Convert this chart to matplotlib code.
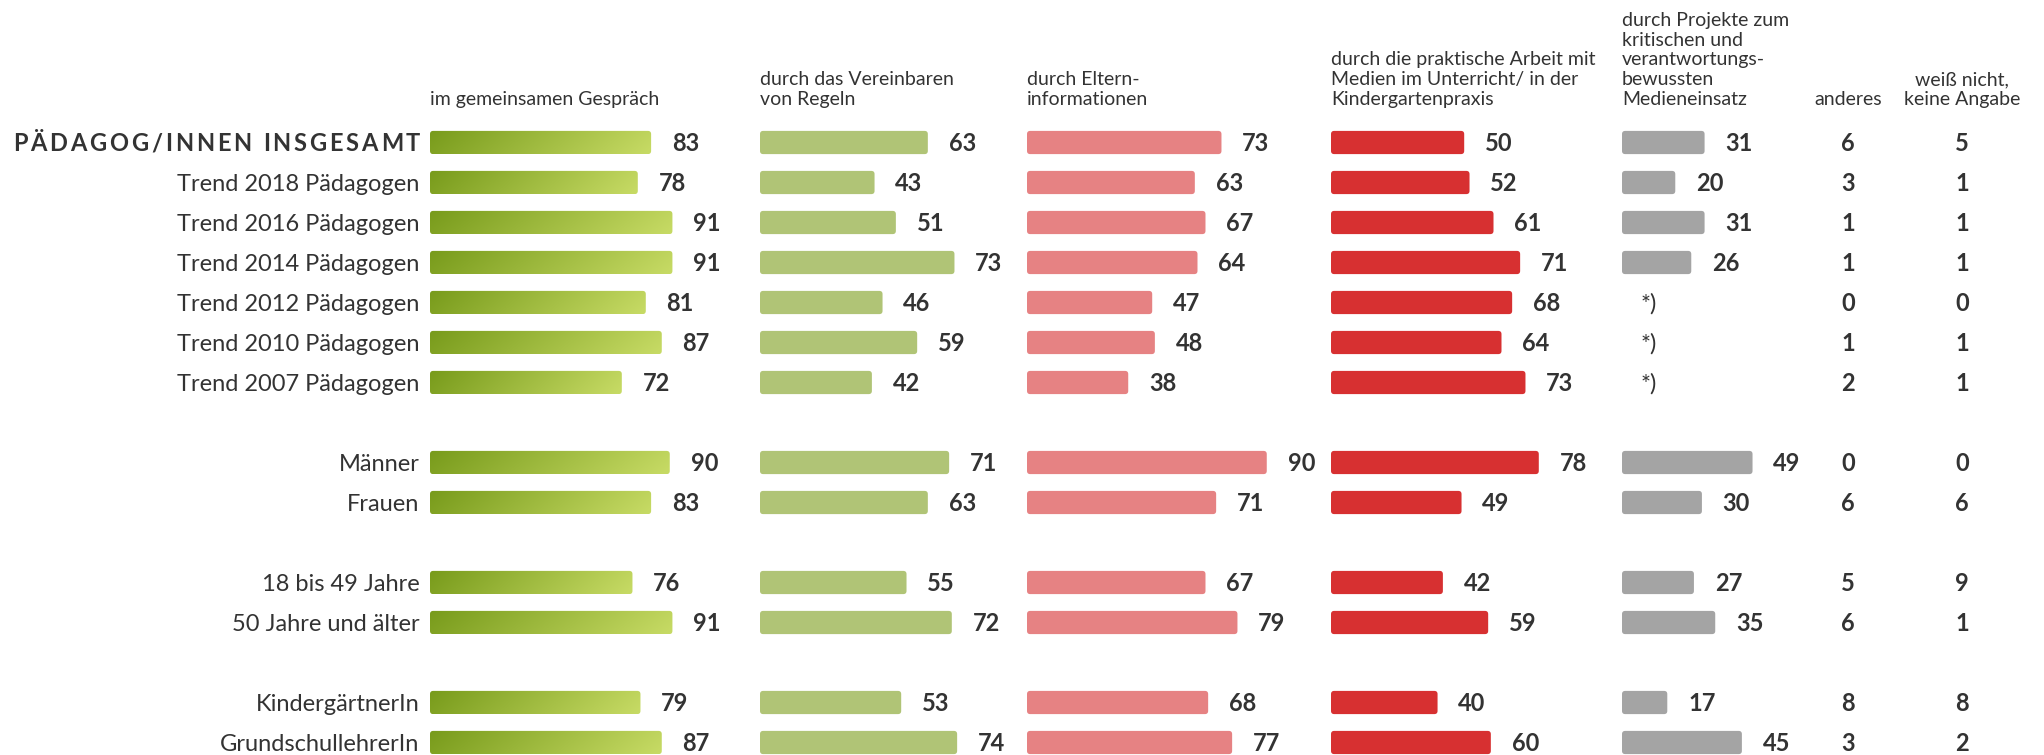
import numpy as np
import matplotlib
matplotlib.use('Agg')
import matplotlib.pyplot as plt
import matplotlib.transforms as mtransforms
from matplotlib.patches import FancyBboxPatch
from matplotlib.colors import LinearSegmentedColormap
from matplotlib.font_manager import FontProperties

plt.rcParams['font.family'] = ['Lato', 'DejaVu Sans']

# --- data ---------------------------------------------------------------
labels = ["PÄDAGOG/INNEN INSGESAMT", "Trend 2018 Pädagogen", "Trend 2016 Pädagogen",
          "Trend 2014 Pädagogen", "Trend 2012 Pädagogen", "Trend 2010 Pädagogen",
          "Trend 2007 Pädagogen", "Männer", "Frauen", "18 bis 49 Jahre",
          "50 Jahre und älter", "KindergärtnerIn", "GrundschullehrerIn"]
groups = [7, 2, 2, 2]

gespraech = [83, 78, 91, 91, 81, 87, 72, 90, 83, 76, 91, 79, 87]
regeln = [63, 43, 51, 73, 46, 59, 42, 71, 63, 55, 72, 53, 74]
eltern = [73, 63, 67, 64, 47, 48, 38, 90, 71, 67, 79, 68, 77]
praxis = [50, 52, 61, 71, 68, 64, 73, 78, 49, 42, 59, 40, 60]
projekte = [31, 20, 31, 26, None, None, None, 49, 30, 27, 35, 17, 45]
anderes = [6, 3, 1, 1, 0, 1, 2, 0, 6, 5, 6, 8, 3]
weiss = [5, 1, 1, 1, 0, 1, 1, 0, 6, 9, 1, 8, 2]

headers = ["im gemeinsamen Gespräch",
           "durch das Vereinbaren\nvon Regeln",
           "durch Eltern-\ninformationen",
           "durch die praktische Arbeit mit\nMedien im Unterricht/ in der\nKindergartenpraxis",
           "durch Projekte zum\nkritischen und\nverantwortungs-\nbewussten\nMedieneinsatz"]
header_anderes = "anderes"
header_weiss = "weiß nicht,\nkeine Angabe"
missing_note = "*)"

# --- layout -------------------------------------------------------------
W, H = 2044, 755
TXT = '#333333'
px_per_unit = 2.664          # pixels per percentage point
row_px = 40.0                # pixels per row
first_row_px = 142.5         # centre of first row from top
bar_h = 0.58
col_x = [430, 760, 1027, 1331, 1622]
anderes_x = 1848
weiss_x = 1962

ypos = []
start = 0
for n in groups:
    ypos.extend(range(start, start + n))
    start += n + 1
ypos = np.array(ypos)

y_top = -first_row_px / row_px
y_bottom = y_top + H / row_px

fig = plt.figure(figsize=(W / 100, H / 100), dpi=100)

grad_cmap = LinearSegmentedColormap.from_list('g', ['#789b1b', '#c6da64'])
grad = np.linspace(0, 1, 256).reshape(1, -1)
grad = grad + np.linspace(0, 0.12, 20).reshape(-1, 1)

val_fs = 17
lab_fs = 17
head_fs = 14
head_ls = 1.2


def make_axes(x0):
    ax = fig.add_axes([x0 / W, 0, 100 * px_per_unit / W, 1])
    ax.axis('off')
    return ax


def draw_column(ax, values, color, gradient=False):
    for y, v in zip(ypos, values):
        if v is None:
            ax.annotate(missing_note, (10, y), xytext=(0, -0.36 * val_fs), textcoords='offset points',
                        ha='center', va='baseline', fontsize=val_fs, color=TXT)
            continue
        patch = FancyBboxPatch((0, y - bar_h / 2), v, bar_h,
                               boxstyle='round,pad=0,rounding_size=1.2',
                               mutation_aspect=px_per_unit / row_px,
                               fc='none' if gradient else color, ec='none')
        ax.add_patch(patch)
        if gradient:
            im = ax.imshow(grad, cmap=grad_cmap, vmin=0, vmax=1.1, aspect='auto',
                           extent=(0, v, y + bar_h / 2, y - bar_h / 2), interpolation='bilinear')
            im.set_clip_path(patch)
        ax.annotate(str(v), (v, y), xytext=(15, -0.36 * val_fs), textcoords='offset points',
                    ha='left', va='baseline', fontsize=val_fs, fontweight='bold', color=TXT)


axes = [make_axes(x) for x in col_x]
draw_column(axes[0], gespraech, None, gradient=True)
draw_column(axes[1], regeln, '#b0c476')
draw_column(axes[2], eltern, '#e68283')
draw_column(axes[3], praxis, '#d73031')
draw_column(axes[4], projekte, '#a4a4a4')

header_y = (105 - first_row_px) / row_px
for ax, h in zip(axes, headers):
    ax.text(0, header_y, h, ha='left', va='baseline', fontsize=head_fs,
            linespacing=head_ls, color=TXT)

for ax in axes:
    ax.set_xlim(0, 100)
    ax.set_ylim(y_bottom, y_top)

ax0 = axes[0]
trans = mtransforms.blended_transform_factory(fig.transFigure, ax0.transData)
ax0.text(anderes_x / W, header_y, header_anderes, transform=trans, ha='center',
         va='baseline', fontsize=head_fs, color=TXT)
ax0.text(weiss_x / W, header_y, header_weiss, transform=trans, ha='center',
         va='baseline', fontsize=head_fs, linespacing=head_ls, multialignment='center', color=TXT)
for y, a, w in zip(ypos, anderes, weiss):
    ax0.annotate(str(a), (anderes_x / W, y), xycoords=trans, xytext=(0, -0.36 * val_fs),
                 textcoords='offset points', ha='center', va='baseline',
                 fontsize=val_fs, fontweight='bold', color=TXT)
    ax0.annotate(str(w), (weiss_x / W, y), xycoords=trans, xytext=(0, -0.36 * val_fs),
                 textcoords='offset points', ha='center', va='baseline',
                 fontsize=val_fs, fontweight='bold', color=TXT)

# row labels (first one letter-spaced caps)
for y, lab in zip(ypos[1:], labels[1:]):
    ax0.annotate(lab, (0, y), xytext=(-7.5, -0.36 * lab_fs), textcoords='offset points',
                 ha='right', va='baseline', fontsize=lab_fs, color=TXT)

title_fs = 17
fp = FontProperties(family='Lato', weight='bold', size=title_fs)
renderer = fig.canvas.get_renderer()


def text_w(s):
    return renderer.get_text_width_height_descent(s, fp, ismath=False)[0]


words = labels[0].split(' ')
space_w = text_w('I I') - text_w('II')
target_w = 420 - 13
n_chars = sum(len(w) for w in words)
natural = sum(text_w(w) for w in words) + space_w * (len(words) - 1)
ls = (target_w - natural) / (n_chars + len(words) - 2)
x = -10 - (natural + ls * (n_chars + len(words) - 2))
for wi, word in enumerate(words):
    for i, ch in enumerate(word):
        cx = x + (text_w(word[:i]) if i else 0) + ls * i
        ax0.annotate(ch, (0, ypos[0]), xytext=(cx, -0.36 * title_fs * 100 / 72),
                     textcoords='offset pixels', ha='left', va='baseline',
                     fontproperties=fp, color=TXT)
    x += text_w(word) + ls * (len(word) - 1) + space_w + ls * 2 if wi < len(words) - 1 else 0

fig.savefig('out.png', dpi=100)
